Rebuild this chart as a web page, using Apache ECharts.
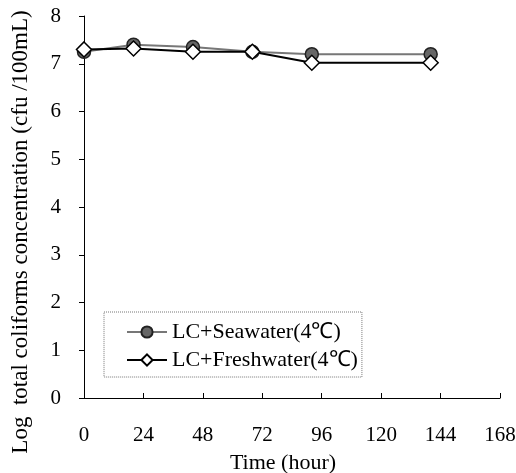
<!DOCTYPE html>
<html>
<head>
<meta charset="utf-8">
<script src="https://cdn.jsdelivr.net/npm/echarts@6/dist/echarts.min.js"></script>
<style>
  html, body { margin: 0; padding: 0; background: #fff; }
  #chart { width: 516px; height: 473px; }
</style>
</head>
<body>
<div id="chart"></div>
<script>
// time in hours and log counts
const hours = [0, 20, 44, 68, 92, 140];
const seawater = [7.25, 7.4, 7.35, 7.25, 7.2, 7.2];
const freshwater = [7.3, 7.32, 7.25, 7.25, 7.02, 7.02];
const seriesNames = ["LC+Seawater(4\u2103)", "LC+Freshwater(4\u2103)"];
const yName = "Log  total coliforms concentration (cfu /100mL)";
const xName = "Time (hour)";

const font = "Liberation Serif";

const chart = echarts.init(document.getElementById("chart"));
chart.setOption({
  animation: false,
  textStyle: { fontFamily: font, color: "#000" },
  grid: { left: 84, right: 16, top: 16, bottom: 75, outerBoundsMode: "none" },
  legend: {
    orient: "vertical",
    left: 104,
    top: 312,
    padding: [9, 4, 6, 22],
    itemGap: 6,
    itemWidth: 40,
    itemHeight: 14,
    borderColor: "#777",
    borderWidth: 1,
    borderType: "dotted",
    textStyle: { fontFamily: font, fontSize: 22, color: "#000", lineHeight: 22 },
    data: seriesNames
  },
  xAxis: {
    type: "value",
    min: 0,
    max: 168,
    interval: 24,
    name: xName,
    nameLocation: "middle",
    nameGap: 54,
    nameTextStyle: { fontFamily: font, fontSize: 22, color: "#000", padding: [0, 18, 0, 0] },
    axisLine: { lineStyle: { color: "#000", width: 1 } },
    axisTick: { inside: true, length: 5, lineStyle: { color: "#000" } },
    axisLabel: { margin: 27, fontFamily: font, fontSize: 21, color: "#000" },
    splitLine: { show: false }
  },
  yAxis: {
    type: "value",
    min: 0,
    max: 8,
    interval: 1,
    axisLine: { show: true, lineStyle: { color: "#000", width: 1 } },
    axisTick: { show: true, inside: false, length: 5, lineStyle: { color: "#000" } },
    axisLabel: { margin: 23, fontFamily: font, fontSize: 21, color: "#000" },
    splitLine: { show: false }
  },
  graphic: [
    {
      type: "text",
      x: 21,
      y: 232,
      rotation: Math.PI / 2,
      style: {
        text: yName,
        fontFamily: font,
        fontSize: 23,
        fill: "#000",
        align: "center",
        verticalAlign: "middle"
      }
    }
  ],
  series: [
    {
      name: seriesNames[0],
      type: "line",
      data: hours.map((h, i) => [h, seawater[i]]),
      symbol: "circle",
      symbolSize: 13,
      lineStyle: { color: "#777", width: 2 },
      itemStyle: { color: "#666", borderColor: "#222", borderWidth: 1.5 }
    },
    {
      name: seriesNames[1],
      type: "line",
      data: hours.map((h, i) => [h, freshwater[i]]),
      symbol: "diamond",
      symbolSize: 15,
      lineStyle: { color: "#000", width: 2 },
      itemStyle: { color: "#fff", borderColor: "#000", borderWidth: 1.5 }
    }
  ]
});
</script>
</body>
</html>
